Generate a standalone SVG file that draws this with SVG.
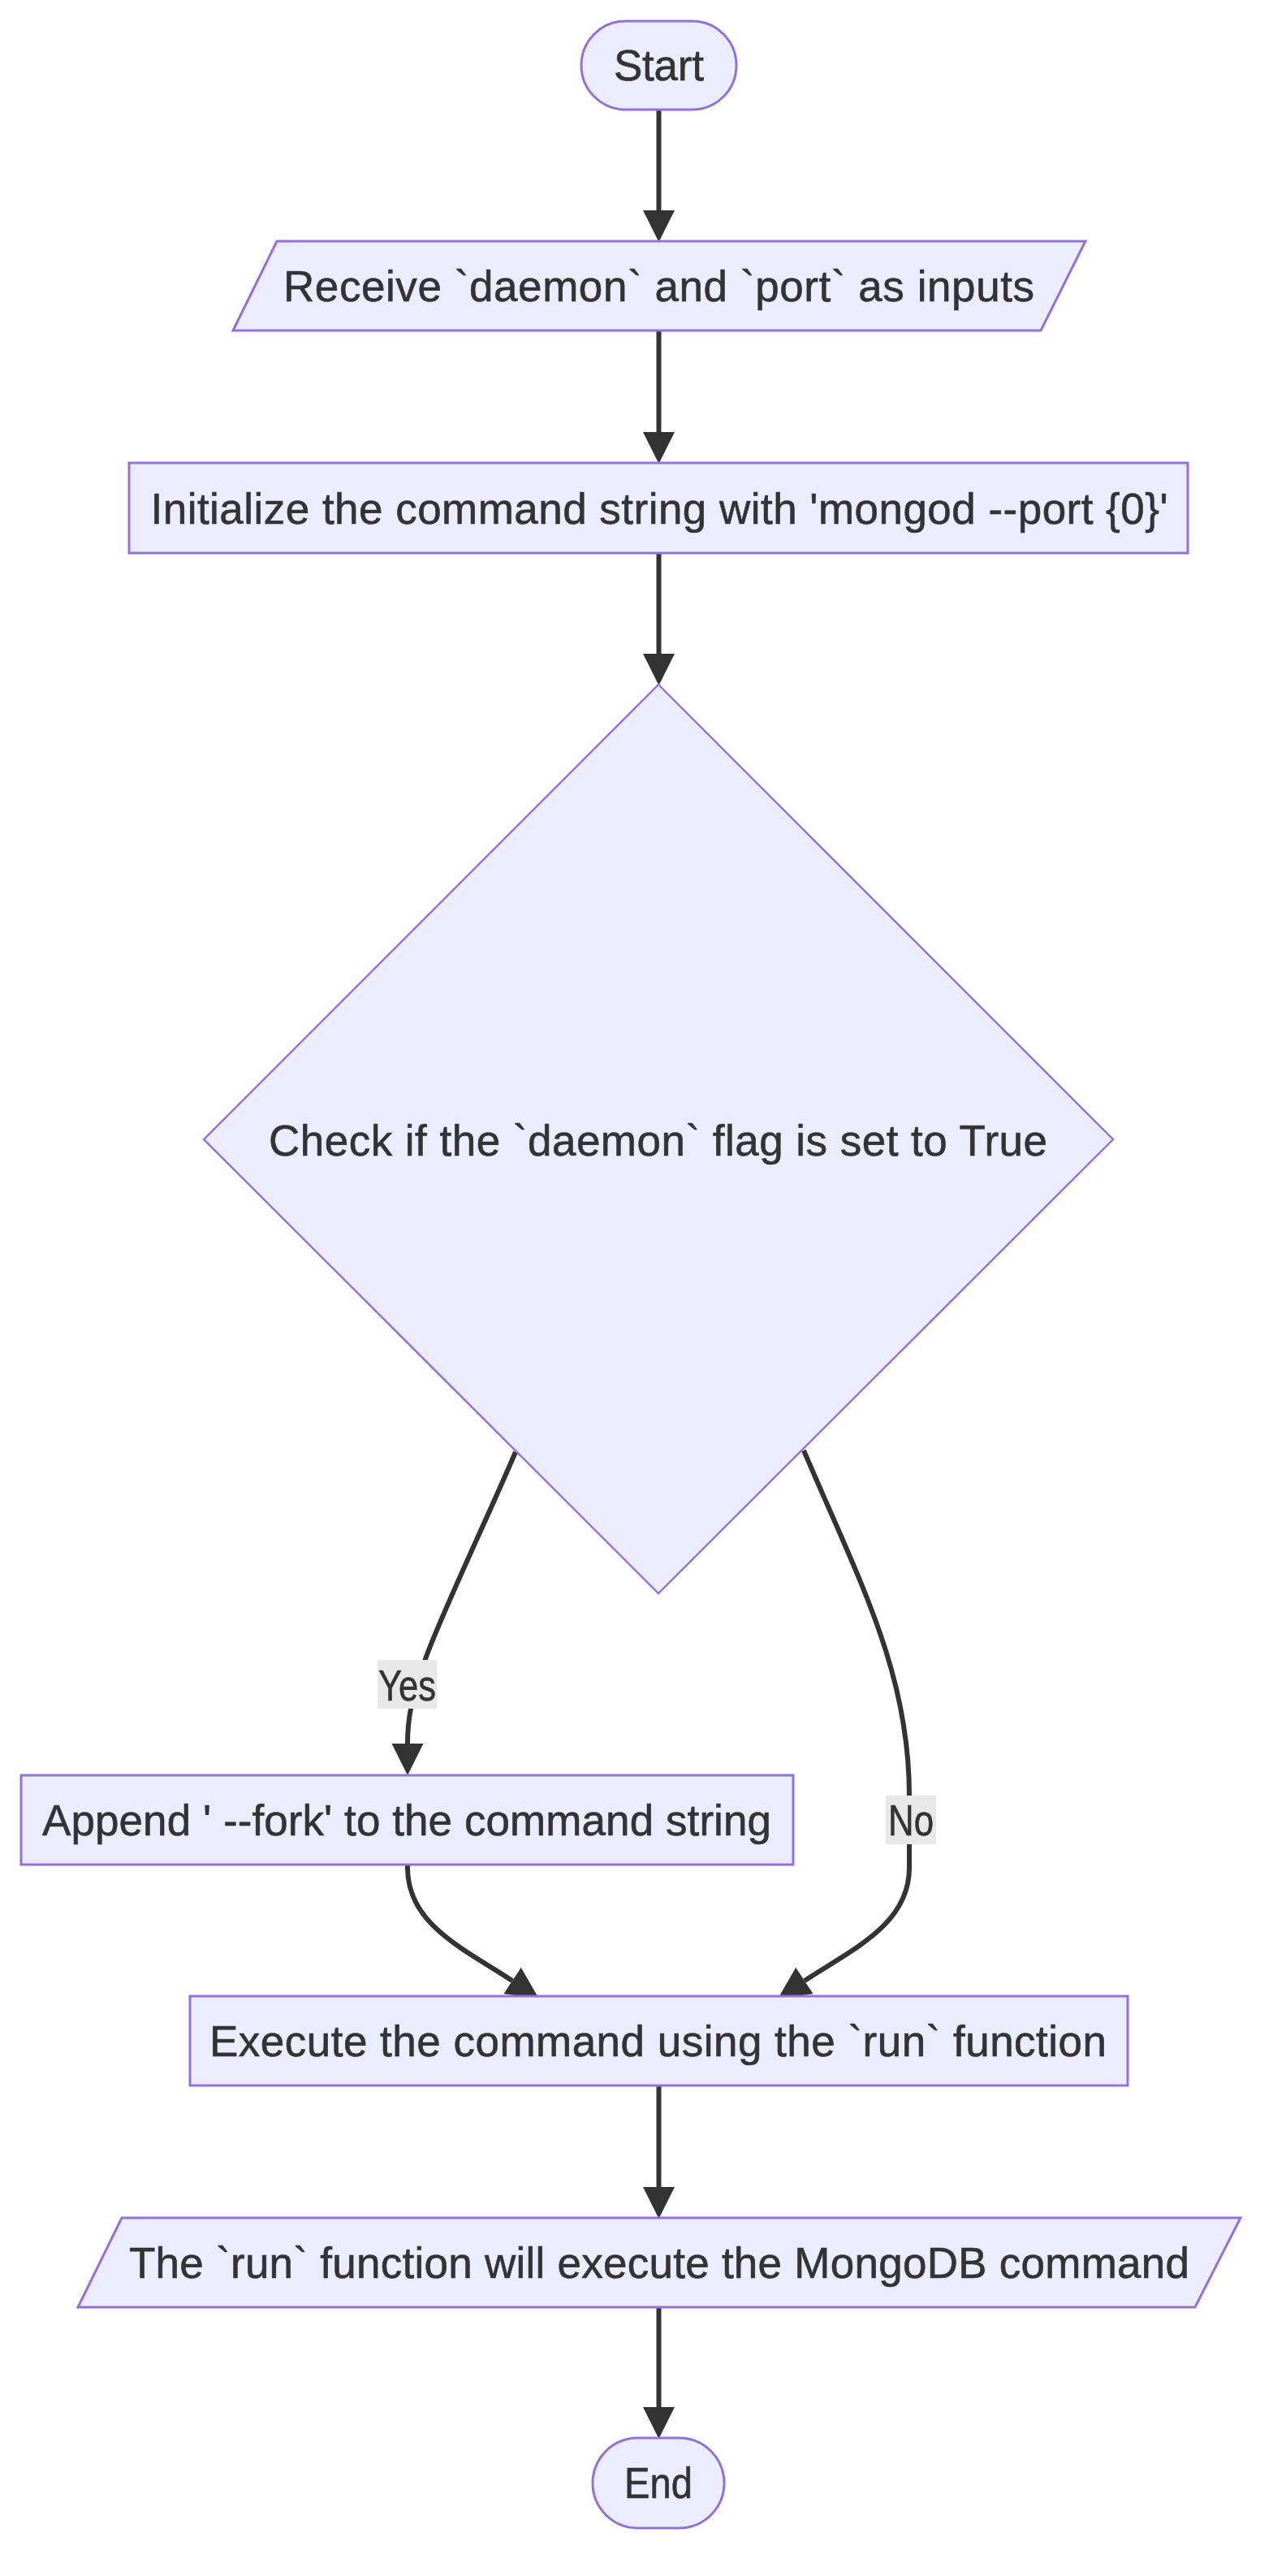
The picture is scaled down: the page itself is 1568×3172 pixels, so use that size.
<svg xmlns="http://www.w3.org/2000/svg" width="1568" height="3172" viewBox="0 0 1568 3172">
<style>
.node{fill:#ECECFF;stroke:#9370DB;stroke-width:3}
.diam{fill:#ECECFF;stroke:#9370DB;stroke-width:2.4}
.lbl{font-family:"Liberation Sans",Arial,sans-serif;font-size:53px;fill:#333333;stroke:#333333;stroke-width:0.6;text-anchor:middle}
.edge{fill:none;stroke:#333333;stroke-width:6}
.ebg{fill:#e8e8e8}
</style>
<defs>
<marker id="arrow" viewBox="0 0 10 10" refX="0" refY="5" markerUnits="userSpaceOnUse" markerWidth="39" markerHeight="39" orient="auto">
<path d="M0,0 L10,5 L0,10 z" fill="#333333"/>
</marker>
</defs>
<rect width="1568" height="3172" fill="#ffffff"/>
<g id="connectors">
<path class="edge" d="M811.5,135 L811.5,259" marker-end="url(#arrow)"/>
<path class="edge" d="M811.5,407 L811.5,532" marker-end="url(#arrow)"/>
<path class="edge" d="M811.5,681 L811.5,805" marker-end="url(#arrow)"/>
<path class="edge" d="M635,1788 C600,1870 545,1985 525,2040 C505,2095 502,2120 502,2147" marker-end="url(#arrow)"/>
<path class="edge" d="M990,1786 C1060,1950 1120,2060 1120,2211 L1120,2300 C1120,2370 1050,2400 991,2439" marker-end="url(#arrow)"/>
<path class="edge" d="M502,2296 L502,2300 C502,2370 572,2400 631,2439" marker-end="url(#arrow)"/>
<path class="edge" d="M811.5,2568 L811.5,2693" marker-end="url(#arrow)"/>
<path class="edge" d="M811.5,2841 L811.5,2964" marker-end="url(#arrow)"/>
<g id="label-yes">
<rect class="ebg" x="465" y="2044" width="73" height="60"/>
<text class="lbl" x="501.5" y="2094" textLength="71" lengthAdjust="spacingAndGlyphs">Yes</text>
</g>
<g id="label-no">
<rect class="ebg" x="1091" y="2211" width="62" height="60"/>
<text class="lbl" x="1122" y="2260" textLength="56" lengthAdjust="spacingAndGlyphs">No</text>
</g>
</g>
<g id="start">
<rect class="node" x="716" y="26" width="191" height="109" rx="54.5" ry="54.5"/>
<text class="lbl" x="811.5" y="99" textLength="111">Start</text>
</g>
<g id="receive">
<polygon class="node" points="341,297 1337,297 1282,407 287,407"/>
<text class="lbl" x="811.5" y="371" textLength="925">Receive `daemon` and `port` as inputs</text>
</g>
<g id="init">
<rect class="node" x="159" y="570" width="1304" height="111"/>
<text class="lbl" x="812" y="645" textLength="1253">Initialize the command string with 'mongod --port {0}'</text>
</g>
<g id="check">
<polygon class="diam" points="811,843 1371,1403 811,1962 251,1403"/>
<text class="lbl" x="810.5" y="1423" textLength="959">Check if the `daemon` flag is set to True</text>
</g>
<g id="append">
<rect class="node" x="26" y="2186" width="951" height="110"/>
<text class="lbl" x="501" y="2260" textLength="898">Append ' --fork' to the command string</text>
</g>
<g id="execute">
<rect class="node" x="234" y="2458" width="1155" height="110"/>
<text class="lbl" x="810.5" y="2532" textLength="1105">Execute the command using the `run` function</text>
</g>
<g id="mongo">
<polygon class="node" points="150,2731 1528,2731 1472,2841 96,2841"/>
<text class="lbl" x="812" y="2805" textLength="1306">The `run` function will execute the MongoDB command</text>
</g>
<g id="end">
<rect class="node" x="730" y="3002" width="162" height="111" rx="55.5" ry="55.5"/>
<text class="lbl" x="811" y="3076" textLength="84" lengthAdjust="spacingAndGlyphs">End</text>
</g>
</svg>
